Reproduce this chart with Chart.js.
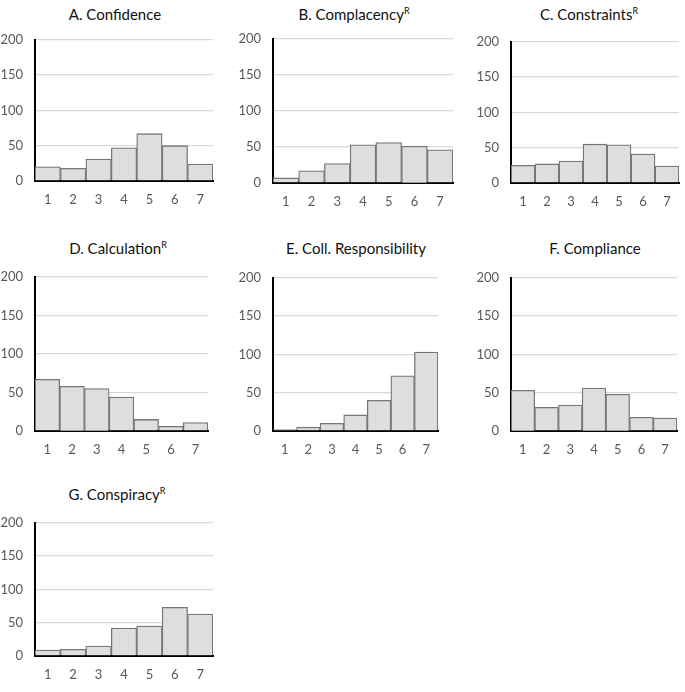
<!DOCTYPE html>
<html>
<head>
<meta charset="utf-8">
<script src="https://cdn.jsdelivr.net/npm/chart.js@4.4.0/dist/chart.umd.min.js"></script>
<style>
    body {
        margin: 0;
        background: #fff;
        width: 685px;
        height: 692px;
        position: relative;
        overflow: hidden;
        font-family: Lato, sans-serif;
    }
    .panelTitle {
        position: absolute;
        width: 240px;
        text-align: center;
        font-size: 15px;
        color: #111;
        line-height: 18px;
        white-space: nowrap;
    }
    .panelTitle sup {
        font-size: 9px;
        vertical-align: 6px;
        line-height: 0;
    }
    canvas {
        position: absolute;
    }
</style>
</head>
<body>
<div id="charts"></div>

<script>
const categories = ['1', '2', '3', '4', '5', '6', '7'];
const yTicks = [0, 50, 100, 150, 200];

const titles = ['A. Confidence', 'B. Complacency', 'C. Constraints', 'D. Calculation',
    'E. Coll. Responsibility', 'F. Compliance', 'G. Conspiracy'];
const reversed = [false, true, true, true, false, false, true];

const confidence = [20, 18, 31, 47, 67, 50, 24];
const complacency = [7, 17, 27, 53, 56, 51, 46];
const constraints = [25, 27, 31, 55, 54, 41, 24];
const calculation = [67, 58, 55, 44, 15, 6, 11];
const collResponsibility = [2, 5, 10, 21, 40, 72, 103];
const compliance = [53, 31, 34, 56, 48, 18, 17];
const conspiracy = [9, 10, 15, 42, 45, 73, 63];

const series = [confidence, complacency, constraints, calculation, collResponsibility, compliance, conspiracy];

// plot areas: left, right, top, bottom ; title center x, title center y
const boxes = [
    [35, 213, 30, 181, 115, 14],
    [273, 453, 29, 183, 354, 14],
    [511, 679, 32, 183, 589, 14],
    [35, 208, 267, 431, 118, 248],
    [273, 438, 268, 431, 356, 248],
    [511, 677, 268, 431, 595, 248],
    [35, 213, 513, 656, 117, 494]
];

const AXIS_W = 45;
const TOP_PAD = 10;
const BOTTOM_H = 30;
const RIGHT_PAD = 4;

function makePanel(i) {
    let box = boxes[i];
    let holder = document.getElementById('charts');

    let title = document.createElement('div');
    title.className = 'panelTitle';
    title.style.left = (box[4] - 120) + 'px';
    title.style.top = (box[5] - 9) + 'px';
    title.innerHTML = titles[i] + (reversed[i] ? '<sup>R</sup>' : '');
    holder.appendChild(title);

    let canvas = document.createElement('canvas');
    let w = box[1] - box[0] + AXIS_W + RIGHT_PAD;
    let h = box[3] - box[2] + TOP_PAD + BOTTOM_H;
    canvas.width = w;
    canvas.height = h;
    canvas.style.width = w + 'px';
    canvas.style.height = h + 'px';
    canvas.style.left = (box[0] - AXIS_W) + 'px';
    canvas.style.top = (box[2] - TOP_PAD) + 'px';
    holder.appendChild(canvas);

    new Chart(canvas, {
        type: 'bar',
        data: {
            labels: categories,
            datasets: [{
                data: series[i],
                backgroundColor: '#dedede',
                borderColor: '#767676',
                borderWidth: 1.3,
                categoryPercentage: 1,
                barPercentage: 1
            }]
        },
        options: {
            responsive: false,
            animation: false,
            devicePixelRatio: 1,
            layout: {
                padding: { top: TOP_PAD, right: RIGHT_PAD, left: 0, bottom: 0 }
            },
            plugins: {
                legend: { display: false },
                tooltip: { enabled: false }
            },
            scales: {
                x: {
                    grid: { display: false },
                    border: { display: true, color: '#000', width: 2 },
                    ticks: {
                        color: '#595959',
                        font: { family: 'Lato', size: 13 },
                        padding: 3,
                        maxRotation: 0
                    },
                    afterFit: (scale) => { scale.height = BOTTOM_H; }
                },
                y: {
                    min: 0,
                    max: 200,
                    afterBuildTicks: (scale) => {
                        scale.ticks = yTicks.map(v => ({ value: v }));
                    },
                    grid: { color: '#d9d9d9', lineWidth: 1.3, drawTicks: false },
                    border: { display: true, color: '#000', width: 2 },
                    ticks: {
                        color: '#595959',
                        font: { family: 'Lato', size: 13 },
                        padding: 12
                    },
                    afterFit: (scale) => { scale.width = AXIS_W; }
                }
            }
        }
    });
}

for (let i = 0; i < series.length; i++) {
    makePanel(i);
}
</script>
</body>
</html>
